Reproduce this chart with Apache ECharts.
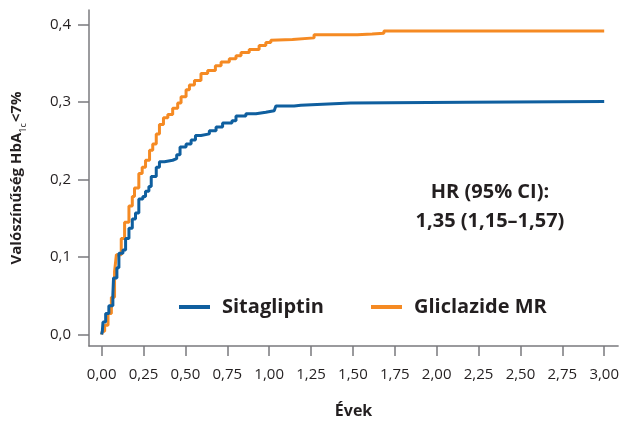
<!DOCTYPE html>
<html>
<head>
<meta charset="utf-8">
<script src="https://cdn.jsdelivr.net/npm/echarts@6/dist/echarts.min.js"></script>
<style>html,body{margin:0;padding:0;background:#fff}#c{width:622px;height:424px}</style>
</head>
<body>
<div id="c"></div>
<script>
var xTicks = [0, 0.25, 0.5, 0.75, 1, 1.25, 1.5, 1.75, 2, 2.25, 2.5, 2.75, 3];
var yTicks = [0, 0.1, 0.2, 0.3, 0.4];
var seriesNames = ['Sitagliptin', 'Gliclazide MR'];
var sitaX = [0, 0.004, 0.008, 0.024, 0.043, 0.067, 0.071, 0.091, 0.103, 0.127, 0.143, 0.163, 0.183, 0.202, 0.222, 0.246, 0.262, 0.282, 0.296, 0.326, 0.345, 0.375, 0.424, 0.448, 0.468, 0.504, 0.534, 0.560, 0.593, 0.643, 0.683, 0.722, 0.778, 0.802, 0.861, 0.921, 0.980, 1.030, 1.040, 1.149, 1.189, 1.286, 1.486, 2.179, 3.0];
var sitaY = [0, 0.004, 0.016, 0.027, 0.037, 0.052, 0.073, 0.086, 0.105, 0.109, 0.124, 0.137, 0.149, 0.157, 0.175, 0.178, 0.185, 0.191, 0.204, 0.216, 0.223, 0.225, 0.227, 0.232, 0.242, 0.246, 0.251, 0.257, 0.259, 0.263, 0.268, 0.273, 0.276, 0.282, 0.285, 0.287, 0.289, 0.290, 0.295, 0.296, 0.297, 0.299, 0.300, 0.301, 0.301];
var glicX = [0, 0.004, 0.018, 0.038, 0.058, 0.077, 0.088, 0.117, 0.137, 0.163, 0.183, 0.196, 0.222, 0.242, 0.262, 0.286, 0.305, 0.326, 0.345, 0.369, 0.395, 0.424, 0.454, 0.474, 0.504, 0.524, 0.554, 0.593, 0.633, 0.679, 0.713, 0.762, 0.802, 0.832, 0.881, 0.940, 0.980, 1.010, 1.020, 1.139, 1.268, 1.526, 1.615, 1.685, 3.0];
var glicY = [0, 0.004, 0.012, 0.027, 0.048, 0.081, 0.103, 0.124, 0.145, 0.166, 0.178, 0.189, 0.208, 0.216, 0.225, 0.238, 0.246, 0.259, 0.271, 0.280, 0.284, 0.292, 0.299, 0.307, 0.316, 0.322, 0.328, 0.337, 0.341, 0.347, 0.352, 0.356, 0.360, 0.364, 0.368, 0.373, 0.377, 0.380, 0.381, 0.383, 0.387, 0.388, 0.389, 0.392, 0.392];
var hrLines = ['HR (95% CI):', '1,35 (1,15\u20131,57)'];

function pairs(xs, ys) { return xs.map(function (x, i) { return [x, ys[i]]; }); }
var FONT = 'Open Sans';
var TXT = '#231f20';
var AX = '#7a7a7e';

var chart = echarts.init(document.getElementById('c'));
chart.setOption({
  animation: false,
  textStyle: { fontFamily: FONT },
  grid: { left: 89, right: 2, top: 10, bottom: 72, containLabel: false },
  legend: {
    left: 174, top: 292, icon: 'rect', itemWidth: 31, itemHeight: 4, itemGap: 47,
    textStyle: { fontFamily: FONT, fontWeight: 'bold', fontSize: 20, color: TXT, padding: [0, 0, 0, 7] },
    data: seriesNames
  },
  graphic: [{
    type: 'text',
    style: {
      text: hrLines.join('\n'), x: 490, y: 178, textAlign: 'center',
      font: 'bold 20px "' + FONT + '"', fill: TXT, lineHeight: 29
    }
  }],
  xAxis: {
    type: 'value', min: -0.0755, max: 3.083,
    name: '\u00c9vek', nameLocation: 'middle', nameGap: 57,
    nameTextStyle: { fontFamily: FONT, fontWeight: 'bold', fontSize: 16, color: TXT },
    axisLine: { show: true, onZero: false, lineStyle: { color: AX, width: 1.5 } },
    axisTick: { show: true, customValues: xTicks, length: 10, lineStyle: { color: AX, width: 1.5 } },
    axisLabel: { customValues: xTicks, margin: 21, fontSize: 15, color: TXT, fontFamily: FONT,
      formatter: function (v) { return v.toFixed(2).replace('.', ','); } },
    splitLine: { show: false }
  },
  yAxis: {
    type: 'value', min: -0.0149, max: 0.419,
    name: '{m|Valószínűség HbA}{sub|1c}{m|<7%}', nameLocation: 'middle', nameGap: 61,
    nameTextStyle: { fontFamily: FONT, fontWeight: 'bold', fontSize: 15, color: TXT,
      rich: {
        m: { fontFamily: FONT, fontSize: 15, fontWeight: 'bold', color: TXT, lineHeight: 22, verticalAlign: 'middle' },
        sub: { fontFamily: FONT, fontSize: 9, fontWeight: 'normal', color: TXT, lineHeight: 9, verticalAlign: 'bottom', padding: [0, 1, 0, 0] }
      } },
    axisLine: { show: true, onZero: false, lineStyle: { color: AX, width: 1.5 } },
    axisTick: { show: true, customValues: yTicks, length: 11, lineStyle: { color: AX, width: 1.5 } },
    axisLabel: { customValues: yTicks, margin: 18, fontSize: 15, color: TXT, fontFamily: FONT,
      formatter: function (v) { return v.toFixed(1).replace('.', ','); } },
    splitLine: { show: false }
  },
  series: [
    { name: seriesNames[0], type: 'line', step: 'end', showSymbol: false, symbol: 'none',
      data: pairs(sitaX, sitaY), lineStyle: { color: '#0f5f9f', width: 3 }, itemStyle: { color: '#0f5f9f' }, z: 3 },
    { name: seriesNames[1], type: 'line', step: 'end', showSymbol: false, symbol: 'none',
      data: pairs(glicX, glicY), lineStyle: { color: '#f58a23', width: 3 }, itemStyle: { color: '#f58a23' }, z: 2 }
  ]
});
</script>
</body>
</html>
